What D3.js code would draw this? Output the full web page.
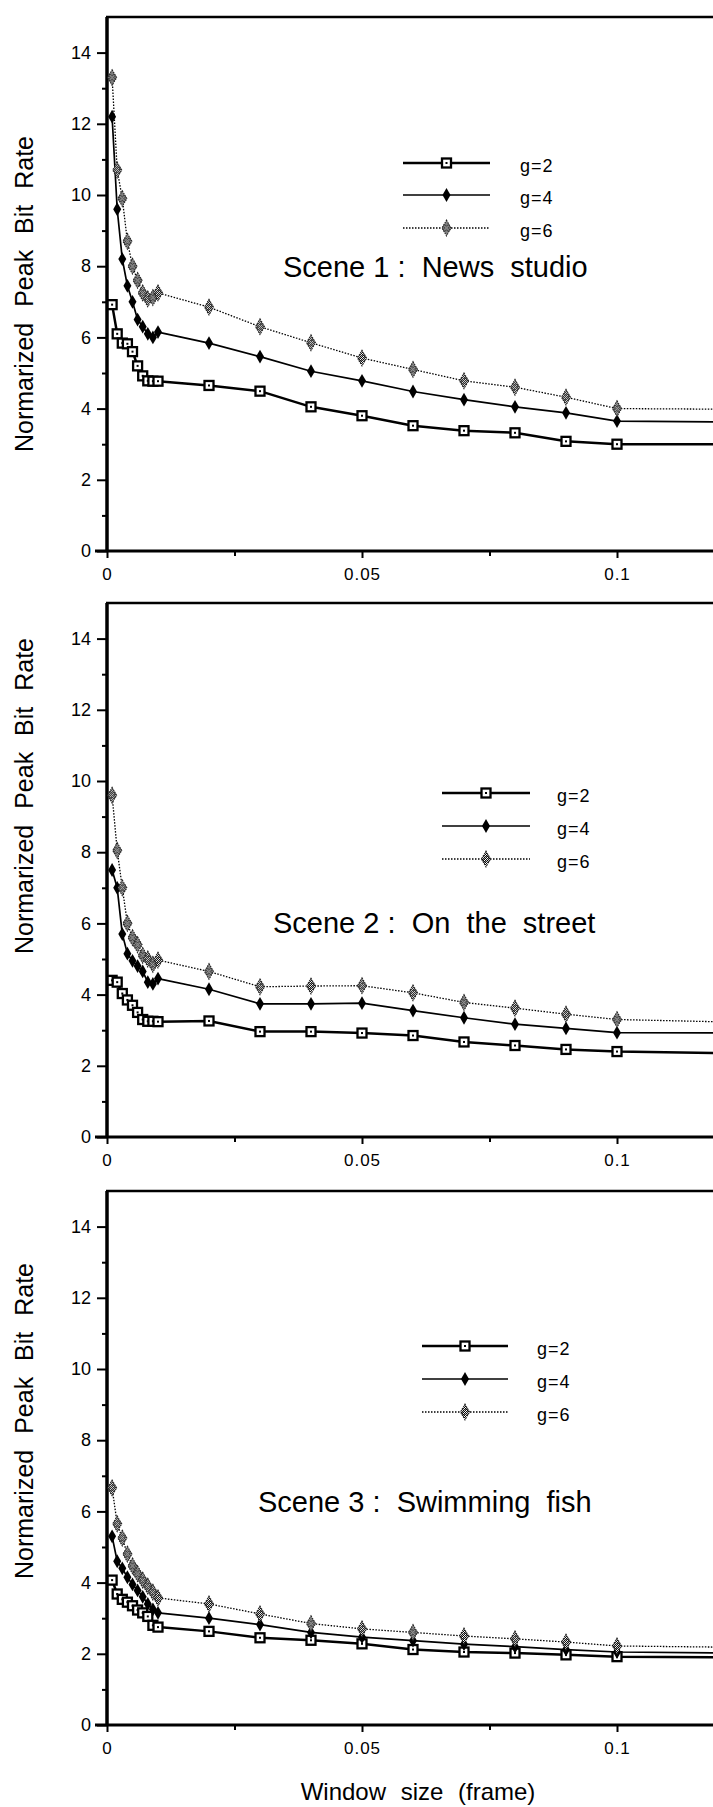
<!DOCTYPE html>
<html>
<head>
<meta charset="utf-8">
<script src="https://cdn.jsdelivr.net/npm/d3@7"></script>
<style>
  html, body { margin: 0; padding: 0; background: #fff; }
  svg { display: block; }
  text { font-family: "Liberation Sans", Arial, sans-serif; fill: #000; }
</style>
</head>
<body>
<div id="chart"></div>
<script>
// ---------- data ----------
const xValues = [0.001, 0.002, 0.003, 0.004, 0.005, 0.006, 0.007, 0.008, 0.009, 0.01,
                 0.02, 0.03, 0.04, 0.05, 0.06, 0.07, 0.08, 0.09, 0.1, 0.125];
const seriesNames = ["g=2", "g=4", "g=6"];
const sceneTitles = ["Scene 1 :  News  studio", "Scene 2 :  On  the  street", "Scene 3 :  Swimming  fish"];

const scene1_g2 = [6.92, 6.1, 5.84, 5.82, 5.6, 5.2, 4.92, 4.78, 4.77, 4.77, 4.65, 4.49, 4.05, 3.8, 3.52, 3.38, 3.32, 3.08, 3.0, 3.0];
const scene1_g4 = [12.2, 9.6, 8.2, 7.45, 7.0, 6.5, 6.3, 6.1, 6.0, 6.15, 5.84, 5.46, 5.05, 4.78, 4.48, 4.25, 4.05, 3.88, 3.65, 3.62];
const scene1_g6 = [13.3, 10.7, 9.9, 8.7, 8.0, 7.6, 7.25, 7.08, 7.12, 7.25, 6.85, 6.3, 5.85, 5.42, 5.1, 4.78, 4.6, 4.32, 4.0, 3.98];

const scene2_g2 = [4.4, 4.35, 4.03, 3.85, 3.7, 3.5, 3.3, 3.25, 3.25, 3.24, 3.26, 2.96, 2.96, 2.92, 2.85, 2.67, 2.57, 2.46, 2.4, 2.35];
const scene2_g4 = [7.5, 7.0, 5.7, 5.15, 4.95, 4.8, 4.65, 4.35, 4.3, 4.45, 4.15, 3.74, 3.74, 3.76, 3.55, 3.35, 3.17, 3.05, 2.93, 2.92];
const scene2_g6 = [9.6, 8.05, 7.0, 6.0, 5.6, 5.4, 5.1, 5.0, 4.85, 4.97, 4.65, 4.22, 4.24, 4.25, 4.05, 3.78, 3.62, 3.45, 3.3, 3.22];

const scene3_g2 = [4.07, 3.68, 3.53, 3.45, 3.35, 3.23, 3.15, 3.05, 2.8, 2.75, 2.63, 2.45, 2.38, 2.28, 2.12, 2.05, 2.02, 1.97, 1.92, 1.9];
const scene3_g4 = [5.3, 4.6, 4.4, 4.15, 3.95, 3.78, 3.6, 3.4, 3.25, 3.15, 3.0, 2.82, 2.6, 2.47, 2.37, 2.27, 2.2, 2.12, 2.05, 2.02];
const scene3_g6 = [6.66, 5.65, 5.25, 4.8, 4.47, 4.25, 4.07, 3.9, 3.73, 3.57, 3.4, 3.12, 2.85, 2.7, 2.6, 2.5, 2.42, 2.33, 2.22, 2.18];

const yTicks = [0, 2, 4, 6, 8, 10, 12, 14];
const yMinorTicks = [1, 3, 5, 7, 9, 11, 13];
const xTicks = [0, 0.05, 0.1];
const xTickLabels = ["0", "0.05", "0.1"];
const xMinorTicks = [0.025, 0.075];
const yAxisTitle = "Normarized Peak Bit Rate";
const xAxisTitle = "Window size (frame)";

// ---------- layout ----------
const W = 713, H = 1807;
const panels = [
  { y0: 551,  title: sceneTitles[0], series: [scene1_g2, scene1_g4, scene1_g6],
    legend: { x1: 403, x2: 490, rows: [163, 195, 228], tx: 520 }, titleX: 283, titleY: 277, ylabC: 294 },
  { y0: 1137, title: sceneTitles[1], series: [scene2_g2, scene2_g4, scene2_g6],
    legend: { x1: 442, x2: 530, rows: [793, 826, 859], tx: 557 }, titleX: 273, titleY: 933, ylabC: 796 },
  { y0: 1725, title: sceneTitles[2], series: [scene3_g2, scene3_g4, scene3_g6],
    legend: { x1: 422, x2: 508, rows: [1346, 1379, 1412], tx: 537 }, titleX: 258, titleY: 1512, ylabC: 1421 }
];
const unitPx = 35.6;

const svg = d3.select("#chart").append("svg").attr("width", W).attr("height", H);
const defs = svg.append("defs");
const pat = defs.append("pattern").attr("id", "hatch").attr("patternUnits", "userSpaceOnUse")
  .attr("width", 2).attr("height", 2);
pat.append("rect").attr("width", 2).attr("height", 2).attr("fill", "#fff");
pat.append("rect").attr("width", 1).attr("height", 1).attr("fill", "#000");
pat.append("rect").attr("x", 1).attr("y", 1).attr("width", 1).attr("height", 1).attr("fill", "#000");

const x = d3.scaleLinear().domain([0, 0.1]).range([107, 617]);

const lineStyles = [
  { width: 2.5, dash: null },
  { width: 1.7, dash: null },
  { width: 1.3, dash: "1.5,1.5" }
];

function drawMarker(g, k, cx, cy) {
  if (k === 0) {
    g.append("rect").attr("x", cx - 4.5).attr("y", cy - 4.5).attr("width", 9).attr("height", 9)
      .attr("fill", "#fff").attr("stroke", "#000").attr("stroke-width", 2.3);
    g.append("rect").attr("x", cx - 1).attr("y", cy - 1).attr("width", 2).attr("height", 2).attr("fill", "#000");
  } else if (k === 1) {
    g.append("path").attr("d", d3.symbol().type(d3.symbolDiamond).size(55)())
      .attr("transform", `translate(${cx},${cy})`).attr("fill", "#000");
  } else {
    g.append("path").attr("d", d3.symbol().type(d3.symbolDiamond).size(70)())
      .attr("transform", `translate(${cx},${cy})`).attr("fill", "url(#hatch)")
      .attr("stroke", "#222").attr("stroke-width", 1.1).attr("stroke-dasharray", "1.5,1");
    g.append("path").attr("d", d3.symbol().type(d3.symbolCross).size(30)())
      .attr("transform", `translate(${cx},${cy}) rotate(45)`).attr("fill", "none")
      .attr("stroke", "#333").attr("stroke-width", 0.8);
  }
}

panels.forEach((p, pi) => {
  const y = d3.scaleLinear().domain([0, 15]).range([p.y0, p.y0 - 15 * unitPx]);
  const g = svg.append("g");

  // frame top
  g.append("line").attr("x1", x(0) - 1).attr("x2", W).attr("y1", y(15)).attr("y2", y(15))
    .attr("stroke", "#000").attr("stroke-width", 2.4);

  // y axis
  const yAxis = d3.axisLeft(y).tickValues(yTicks).tickSize(10).tickPadding(6).tickFormat(d3.format("d"));
  const ya = g.append("g").attr("transform", `translate(${x(0)},0)`).call(yAxis);
  ya.select(".domain").attr("stroke-width", 3.5).attr("d", `M0,${y(15)}V${y(0)}`);
  ya.selectAll(".tick line").attr("stroke-width", 2);
  ya.selectAll(".tick text").style("font-size", "18px").style("font-family", "'Liberation Sans', Arial, sans-serif");
  const yMinor = d3.axisLeft(y).tickValues(yMinorTicks).tickSize(5).tickFormat("");
  const ym = g.append("g").attr("transform", `translate(${x(0)},0)`).call(yMinor);
  ym.select(".domain").remove();
  ym.selectAll(".tick line").attr("stroke-width", 2);

  // x axis
  const xAxis = d3.axisBottom(x).tickValues(xTicks).tickSize(7).tickPadding(10)
    .tickFormat((d, i) => xTickLabels[i]);
  const xa = g.append("g").attr("transform", `translate(0,${y(0)})`).call(xAxis);
  xa.select(".domain").attr("stroke-width", 3.2).attr("d", `M${x(0) - 12},0H${W}`);
  xa.selectAll(".tick line").attr("stroke-width", 2);
  xa.selectAll(".tick text").style("font-size", "17px").style("letter-spacing", "1px")
    .style("font-family", "'Liberation Sans', Arial, sans-serif");
  const xMinor = d3.axisBottom(x).tickValues(xMinorTicks).tickSize(5).tickFormat("");
  const xm = g.append("g").attr("transform", `translate(0,${y(0)})`).call(xMinor);
  xm.select(".domain").remove();
  xm.selectAll(".tick line").attr("stroke-width", 2);

  // y axis title
  g.append("text").attr("transform", `translate(33,${p.ylabC}) rotate(-90)`)
    .attr("text-anchor", "middle").style("font-size", "25px").style("word-spacing", "9px")
    .text(yAxisTitle);

  // series
  p.series.forEach((vals, k) => {
    const pts = xValues.map((xv, i) => [xv, vals[i]]);
    const line = d3.line().x(d => x(d[0])).y(d => y(d[1]));
    const path = g.append("path").datum(pts).attr("d", line).attr("fill", "none")
      .attr("stroke", "#000").attr("stroke-width", lineStyles[k].width)
      .attr("stroke-linejoin", "round");
    if (lineStyles[k].dash) path.attr("stroke-dasharray", lineStyles[k].dash);
    const mg = g.append("g");
    pts.forEach(d => { if (x(d[0]) < W) drawMarker(mg, k, x(d[0]), y(d[1])); });
  });

  // legend
  seriesNames.forEach((name, k) => {
    const ry = p.legend.rows[k];
    const l = g.append("line").attr("x1", p.legend.x1).attr("x2", p.legend.x2).attr("y1", ry).attr("y2", ry)
      .attr("stroke", "#000").attr("stroke-width", lineStyles[k].width);
    if (lineStyles[k].dash) l.attr("stroke-dasharray", lineStyles[k].dash);
    drawMarker(g, k, (p.legend.x1 + p.legend.x2) / 2, ry);
    g.append("text").attr("x", p.legend.tx).attr("y", ry + 9).style("font-size", "18px")
      .style("letter-spacing", "1px").text(name);
  });

  // scene title
  g.append("text").attr("x", p.titleX).attr("y", p.titleY).style("font-size", "29px")
    .style("white-space", "pre").text(p.title);
});

// x axis title
svg.append("text").attr("x", 418).attr("y", 1800).attr("text-anchor", "middle")
  .style("font-size", "24px").style("word-spacing", "8px").text(xAxisTitle);
</script>
</body>
</html>
